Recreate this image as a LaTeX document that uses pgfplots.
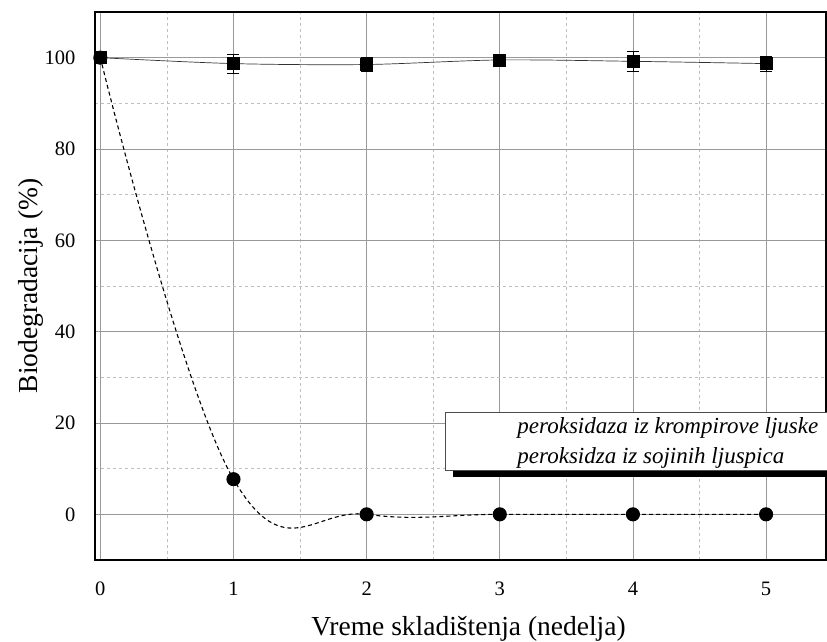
\documentclass[border=0pt]{standalone}
\usepackage{pgfplots}
\pgfplotsset{compat=1.18}
\usepackage{fontspec}
\setmainfont{Liberation Serif}
\usetikzlibrary{shadows}
\begin{document}
\begin{tikzpicture}[x=1pt,y=1pt]
\useasboundingbox (0,0) rectangle (827,641);
\begin{axis}[at={(95pt,81pt)}, anchor=south west, scale only axis,
  width=731pt, height=548pt,
  xmin=-0.04, xmax=5.45, ymin=-10, ymax=110,
  xtick={0,1,2,3,4,5}, ytick={0,20,40,60,80,100},
  minor xtick={0.5,1.5,2.5,3.5,4.5},
  minor ytick={-10,10,30,50,70,90,110},
  grid=both,
  major grid style={color=black!40, line width=0.6pt},
  minor grid style={color=black!25, dashed, line width=0.5pt},
  major tick length=0pt, minor tick length=0pt,
  axis line style={line width=1.3pt},
  ticklabel style={font=\fontsize{20.5}{24}\selectfont},
  /pgf/number format/assume math mode=true,
  xticklabel style={anchor=base, yshift=-35pt},
  yticklabel style={xshift=-16pt},
  xlabel={Vreme skladištenja (nedelja)},
  ylabel={Biodegradacija (\%)},
  label style={font=\fontsize{27.5}{32}\selectfont},
  xlabel style={at={(rel axis cs:0.5,0)}, anchor=base, yshift=-75pt, xshift=8pt},
  ylabel style={at={(rel axis cs:0,0.5)}, anchor=base, yshift=57pt},
  legend style={at={(axis cs:2.59,22.4)}, anchor=north west,
    draw=black!70, line width=0.6pt, fill=white,
    font=\fontsize{23}{27}\selectfont\itshape,
    drop shadow={shadow xshift=8pt, shadow yshift=-7pt, opacity=1, fill=black},
    row sep=9pt, inner sep=3pt},
  legend cell align=left,
]
\addplot[forget plot, black!80, line width=0.7pt, smooth, mark=square*, mark size=6pt,
  mark options={black},
  error bars/.cd, y dir=both, y explicit, error bar style={black, line width=0.6pt},
  error mark options={black, rotate=90, mark size=6pt, line width=0.6pt}]
  coordinates {(0,100) +- (0,0.5) (1,98.7) +- (0,2.1) (2,98.5) +- (0,1.5)
               (3,99.5) +- (0,0.6) (4,99.2) +- (0,2.1) (5,98.7) +- (0,1.6)};
\addplot[forget plot, black, line width=1.1pt, dash pattern=on 4pt off 3pt, smooth, tension=0.7,
  mark=*, mark size=6.5pt, mark options={solid}]
  coordinates {(0,100) (1,7.7) (2,0) (3,0) (4,0) (5,0)};
\addlegendimage{empty legend}
\addlegendentry{\hspace*{67pt}peroksidaza iz krompirove ljuske\hspace*{6pt}}
\addlegendimage{empty legend}
\addlegendentry{\hspace*{67pt}peroksidza iz sojinih ljuspica}
\end{axis}
\end{tikzpicture}
\end{document}
